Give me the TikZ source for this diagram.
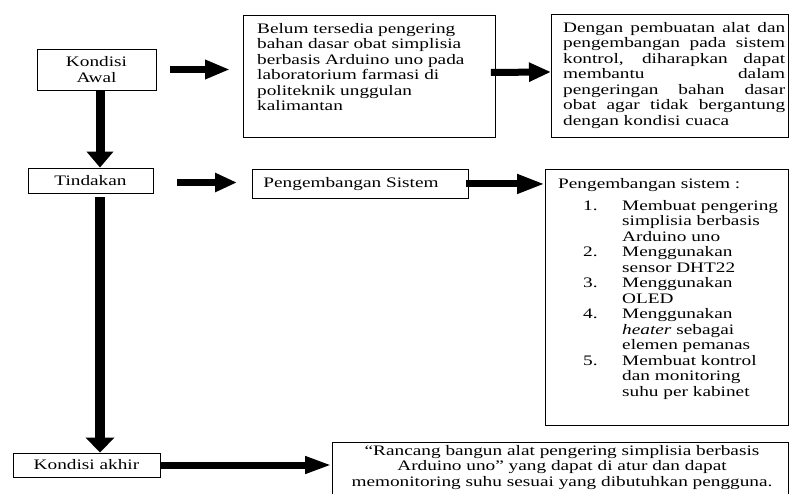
\documentclass[tikz,border=0pt]{standalone}
\usepackage{fontspec}
\setmainfont[FakeStretch=1.33]{Liberation Serif}
\usetikzlibrary{arrows.meta,positioning}
\newcommand{\butir}[1]{\hspace*{25pt}\makebox[39pt][l]{#1}}
\newcommand{\lanjut}{\hspace*{64pt}}
\newcommand{\rata}[1]{\makebox[222pt][s]{#1}}

\begin{document}
\begin{tikzpicture}[x=1pt,y=-1pt,
    every node/.style={font=\fontsize{14.5}{15.5}\selectfont},
    kotak/.style={draw, line width=0.9pt, inner sep=0pt},
    isi/.style={inner sep=0pt, align=left, anchor=north west},
    panah/.style={line width=7pt, -{Triangle[length=22pt,width=18pt]}},
    panahturun/.style={line width=9pt, -{Triangle[length=16pt,width=26pt]}}]
  \useasboundingbox (0,0) rectangle (789,493);

  % kolom kiri
  \node[kotak, minimum width=119pt, minimum height=41pt, align=center] (awal) at (96.5,69.5) {Kondisi\\Awal};
  \node[kotak, minimum width=125pt, minimum height=25pt] (tindakan) at (90.5,180.5) {Tindakan};
  \node[kotak, minimum width=147pt, minimum height=24pt] (akhir) at (86.5,465) {Kondisi akhir};

  % kotak kanan
  \node[kotak, minimum width=252pt, minimum height=122pt, anchor=north west] (belum) at (243,15) {};
  \node[isi] (belumisi) at (257,23) {Belum tersedia pengering\\bahan dasar obat simplisia\\berbasis Arduino uno pada\\laboratorium farmasi di\\politeknik unggulan\\kalimantan};

  \node[kotak, minimum width=237pt, minimum height=123pt, anchor=north west] (harap) at (551,14) {};
  \node[isi] (harapisi) at (563,22) {\rata{Dengan pembuatan alat dan}\\\rata{pengembangan pada sistem}\\\rata{kontrol, diharapkan dapat}\\\rata{membantu dalam}\\\rata{pengeringan bahan dasar}\\\rata{obat agar tidak bergantung}\\dengan kondisi cuaca};

  \node[kotak, text width=194pt, inner xsep=11pt, minimum height=29pt, align=left, anchor=north west] (pengembangan) at (252,169) {Pengembangan Sistem};

  \node[kotak, minimum width=243pt, minimum height=256pt, anchor=north west] (daftar) at (545,169) {};
  \node[isi] (daftarisi) at (558,178) {Pengembangan sistem :\\[6.5pt]
    \butir{1.}Membuat pengering\\\lanjut simplisia berbasis\\\lanjut Arduino uno\\
    \butir{2.}Menggunakan\\\lanjut sensor DHT22\\
    \butir{3.}Menggunakan\\\lanjut OLED\\
    \butir{4.}Menggunakan\\\lanjut\textit{heater} sebagai\\\lanjut elemen pemanas\\
    \butir{5.}Membuat kontrol\\\lanjut dan monitoring\\\lanjut suhu per kabinet};

  \node[kotak, minimum width=456pt, minimum height=80pt, anchor=north west] (rancang) at (332,442) {};
  \node[isi, align=center, anchor=north] (rancangisi) at (562,445) {``Rancang bangun alat pengering simplisia berbasis\\Arduino uno'' yang dapat di atur dan dapat\\memonitoring suhu sesuai yang dibutuhkan pengguna.};

  % panah
  \draw[panah, -{Triangle[length=25pt,width=18pt]}, shorten <=14pt, shorten >=13pt] (awal.east) -- (awal.east -| belum.west);
  \draw[panah, shorten <=-5pt] ([yshift=4pt]belum.east) -- ([yshift=4pt]harap.west);
  \draw[panahturun] ([xshift=3.5pt]awal.south) -- ([xshift=3.5pt]awal.south |- tindakan.north);
  \draw[panah, shorten <=24pt, shorten >=15pt] ([yshift=-2pt]tindakan.east) -- ([yshift=-2pt]tindakan.east -| pengembangan.west);
  \draw[panah, -{Triangle[length=28pt,width=18pt]}, shorten <=-3pt] (pengembangan.east) -- (pengembangan.east -| daftar.west);
  \draw[panahturun, line width=10pt, -{Triangle[length=15pt,width=28pt]}, shorten <=4pt] ([xshift=9.5pt]tindakan.south) -- ([xshift=9.5pt]tindakan.south |- akhir.north);
  \draw[panah, -{Triangle[length=27pt,width=16pt]}] (akhir.east) -- (akhir.east -| rancang.west);
\end{tikzpicture}
\end{document}
